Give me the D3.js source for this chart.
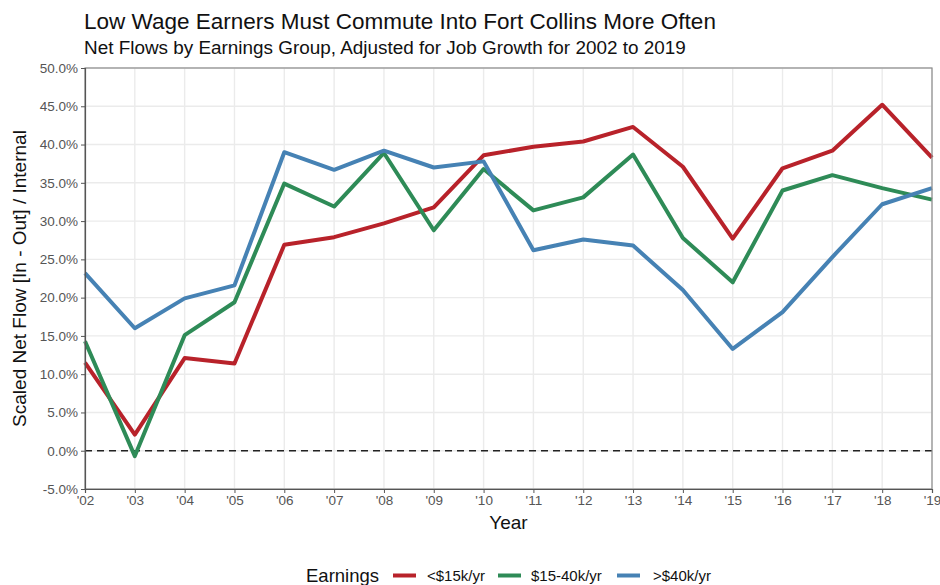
<!DOCTYPE html>
<html>
<head>
<meta charset="utf-8">
<script src="https://cdn.jsdelivr.net/npm/d3@7"></script>
<style>
  html, body { margin: 0; padding: 0; background: #fff; }
  svg { display: block; font-family: "Liberation Sans", Arial, sans-serif; }
</style>
</head>
<body>
<svg id="chart" width="940" height="585"></svg>
<script>
const years = ["'02","'03","'04","'05","'06","'07","'08","'09","'10","'11","'12","'13","'14","'15","'16","'17","'18","'19"];
const low = [11.5, 2.1, 12.1, 11.4, 26.9, 27.9, 29.7, 31.8, 38.6, 39.7, 40.4, 42.3, 37.1, 27.7, 36.9, 39.2, 45.2, 38.3];
const mid = [14.3, -0.7, 15.1, 19.4, 34.9, 31.9, 38.9, 28.8, 36.8, 31.4, 33.1, 38.7, 27.8, 22.0, 34.0, 36.0, 34.3, 32.8];
const high = [23.2, 16.0, 19.9, 21.6, 39.0, 36.7, 39.2, 37.0, 37.8, 26.2, 27.6, 26.8, 21.0, 13.3, 18.1, 25.3, 32.2, 34.3];
const seriesNames = ["<$15k/yr", "$15-40k/yr", ">$40k/yr"];
const seriesColors = ["#B8222A", "#2E8B57", "#4682B4"];
const yTicks = [-5, 0, 5, 10, 15, 20, 25, 30, 35, 40, 45, 50];

const series = [low, mid, high].map((v, i) => ({ name: seriesNames[i], color: seriesColors[i], values: v }));

const svg = d3.select("#chart");
const pL = 85, pR = 932, pT = 68, pB = 489;

const x = d3.scalePoint().domain(years).range([pL, pR]);
const y = d3.scaleLinear().domain([-5, 50]).range([pB, pT]);

// gridlines
svg.append("g").selectAll("line").data(years).join("line")
  .attr("x1", d => x(d)).attr("x2", d => x(d)).attr("y1", pT).attr("y2", pB)
  .attr("stroke", "#EBEBEB").attr("stroke-width", 1.4);
svg.append("g").selectAll("line").data(yTicks).join("line")
  .attr("x1", pL).attr("x2", pR).attr("y1", d => y(d)).attr("y2", d => y(d))
  .attr("stroke", "#EBEBEB").attr("stroke-width", 1.4);

// zero dashed line
svg.append("line").attr("x1", pL).attr("x2", pR).attr("y1", y(0)).attr("y2", y(0))
  .attr("stroke", "#222").attr("stroke-width", 1.5).attr("stroke-dasharray", "7,5");

// lines
const line = d3.line().x((d, i) => x(years[i])).y(d => y(d));
svg.append("g").selectAll("path").data(series).join("path")
  .attr("d", d => line(d.values)).attr("fill", "none")
  .attr("stroke", d => d.color).attr("stroke-width", 4).attr("stroke-linejoin", "round");

// panel border
svg.append("rect").attr("x", pL).attr("y", pT).attr("width", pR - pL).attr("height", pB - pT)
  .attr("fill", "none").attr("stroke", "#8c8c8c").attr("stroke-width", 1.2);

// axes
const yAxis = svg.append("g").attr("transform", `translate(${pL},0)`)
  .call(d3.axisLeft(y).tickValues(yTicks).tickFormat(d => d.toFixed(1) + "%").tickSize(4).tickPadding(3));
const xAxis = svg.append("g").attr("transform", `translate(0,${pB})`)
  .call(d3.axisBottom(x).tickSize(4).tickPadding(2));
[yAxis, xAxis].forEach(a => {
  a.select(".domain").attr("stroke", "#555").attr("stroke-width", 1.2);
  a.selectAll(".tick line").attr("stroke", "#555");
  a.selectAll(".tick text").attr("fill", "#555").attr("font-size", 13.5)
    .attr("font-family", "Liberation Sans, Arial, sans-serif");
});

// titles
svg.append("text").attr("x", 84).attr("y", 29).attr("font-size", 22.5).attr("fill", "#111")
  .text("Low Wage Earners Must Commute Into Fort Collins More Often");
svg.append("text").attr("x", 84).attr("y", 54).attr("font-size", 18.9).attr("fill", "#111")
  .text("Net Flows by Earnings Group, Adjusted for Job Growth for 2002 to 2019");

// axis titles
svg.append("text").attr("x", (pL + pR) / 2).attr("y", 529).attr("text-anchor", "middle")
  .attr("font-size", 19).attr("fill", "#111").text("Year");
svg.append("text").attr("transform", `translate(26,${(pT + pB) / 2}) rotate(-90)`)
  .attr("text-anchor", "middle").attr("font-size", 19).attr("fill", "#111")
  .text("Scaled Net Flow [In - Out] / Internal");

// legend
const lg = svg.append("g");
lg.append("text").attr("x", 306).attr("y", 582).attr("font-size", 18.5).attr("fill", "#111").text("Earnings");
const keyX = [393, 498, 617];
const labX = [427, 531, 653];
series.forEach((s, i) => {
  lg.append("line").attr("x1", keyX[i]).attr("x2", keyX[i] + 23).attr("y1", 575.5).attr("y2", 575.5)
    .attr("stroke", s.color).attr("stroke-width", 4);
  lg.append("text").attr("x", labX[i]).attr("y", 581).attr("font-size", 15).attr("fill", "#111").text(s.name);
});
</script>
</body>
</html>
